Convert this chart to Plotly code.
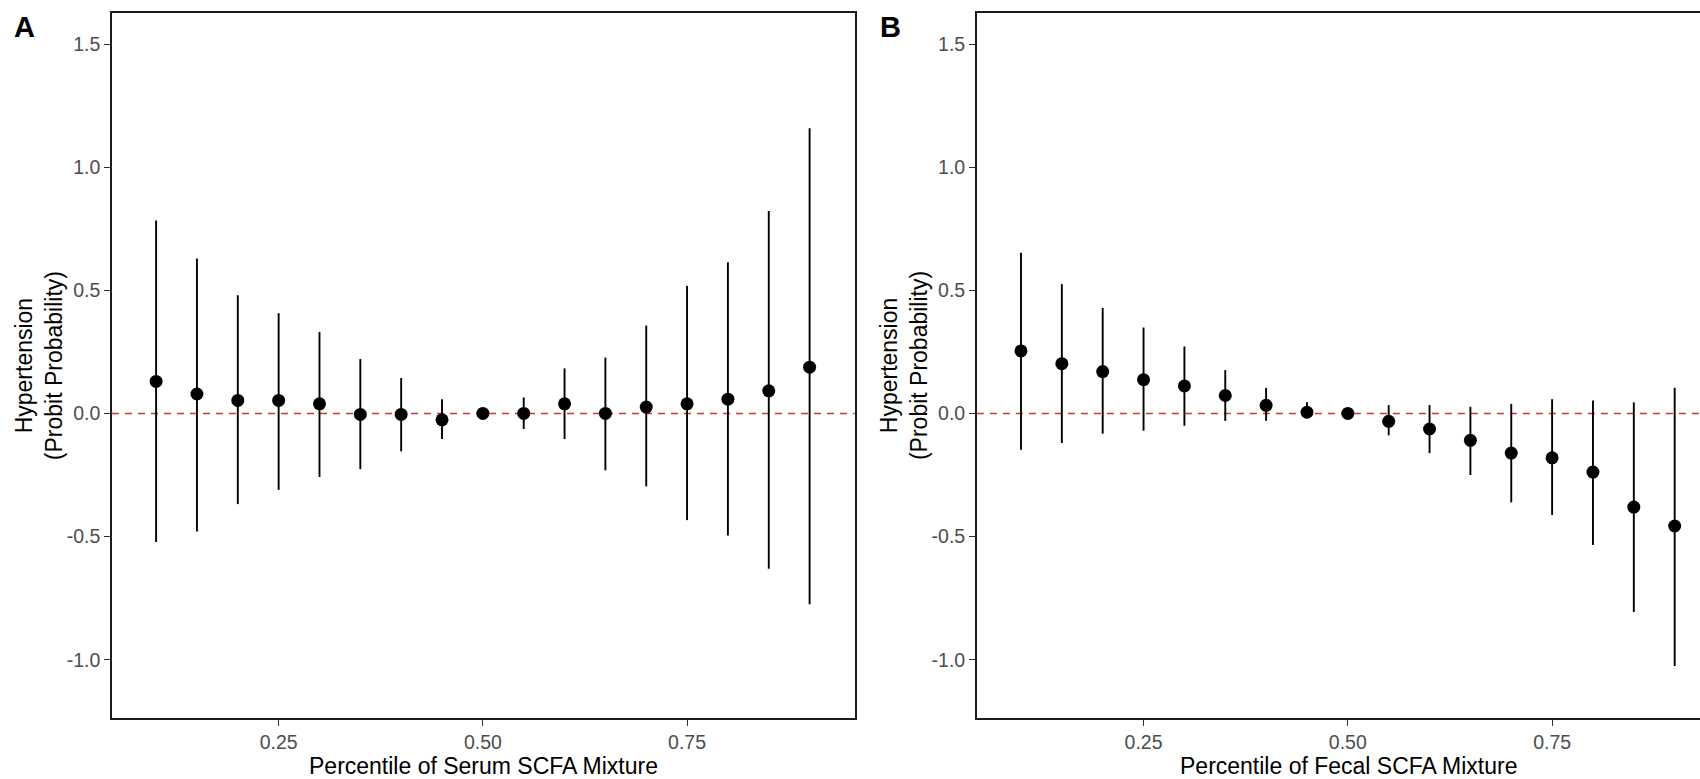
import plotly.graph_objects as go

# ---------------- data ----------------
percentiles = [0.10, 0.15, 0.20, 0.25, 0.30, 0.35, 0.40, 0.45, 0.50,
               0.55, 0.60, 0.65, 0.70, 0.75, 0.80, 0.85, 0.90]

serum_est = [0.130, 0.079, 0.053, 0.053, 0.039, -0.004, -0.004, -0.026, 0.000,
             0.000, 0.039, 0.000, 0.026, 0.039, 0.058, 0.092, 0.188]
serum_upper = [0.783, 0.629, 0.480, 0.407, 0.331, 0.221, 0.144, 0.058, 0.004,
               0.065, 0.183, 0.227, 0.357, 0.518, 0.614, 0.822, 1.158]
serum_lower = [-0.522, -0.479, -0.368, -0.310, -0.258, -0.226, -0.154, -0.104, -0.004,
               -0.063, -0.104, -0.231, -0.296, -0.433, -0.496, -0.631, -0.775]

fecal_est = [0.254, 0.202, 0.170, 0.137, 0.112, 0.073, 0.033, 0.005, 0.000,
             -0.032, -0.063, -0.109, -0.161, -0.180, -0.238, -0.380, -0.457]
fecal_upper = [0.653, 0.525, 0.428, 0.349, 0.272, 0.176, 0.104, 0.046, 0.004,
               0.034, 0.034, 0.027, 0.039, 0.058, 0.053, 0.045, 0.104]
fecal_lower = [-0.147, -0.120, -0.082, -0.070, -0.050, -0.030, -0.030, -0.019, -0.004,
               -0.089, -0.161, -0.250, -0.361, -0.412, -0.534, -0.806, -1.025]

y_ticks = [-1.0, -0.5, 0.0, 0.5, 1.0, 1.5]
y_tick_labels = ["-1.0", "-0.5", "0.0", "0.5", "1.0", "1.5"]
x_ticks = [0.25, 0.50, 0.75]
x_tick_labels = ["0.25", "0.50", "0.75"]

panel_labels = ["A", "B"]
x_titles = ["Percentile of Serum SCFA Mixture", "Percentile of Fecal SCFA Mixture"]
y_title = "Hypertension<br>(Probit Probability)"

# ---------------- layout geometry (pixels) ----------------
W, H = 1700, 779
ML, MR, MT, MB = 112.3, 0, 13, 61
PW = W - ML - MR
PH = H - MT - MB


def px_x(px):
    return (px - ML) / PW


def px_y(py):
    return (H - MB - py) / PH


FONT = "Arial, 'Liberation Sans', sans-serif"

fig = go.Figure()

panels = [
    (serum_est, serum_upper, serum_lower, "x", "y"),
    (fecal_est, fecal_upper, fecal_lower, "x2", "y2"),
]
for est, up, lo, xa, ya in panels:
    fig.add_trace(go.Scatter(
        x=percentiles, y=est, mode="markers",
        marker=dict(color="black", size=13),
        error_y=dict(type="data", symmetric=False,
                     array=[u - e for u, e in zip(up, est)],
                     arrayminus=[e - l for e, l in zip(est, lo)],
                     width=0, thickness=1.9, color="black"),
        xaxis=xa, yaxis=ya, showlegend=False, hoverinfo="skip",
    ))

axis_common = dict(
    showgrid=False, zeroline=False, showline=True, linecolor="#1a1a1a",
    linewidth=1.5, ticks="outside", ticklen=6, tickwidth=1.3, tickcolor="#333333",
    tickfont=dict(family=FONT, size=19.5, color="#4D4D4D"),
)

xr_a = [0.046, 0.955]
xr_b = [0.046, 0.931]
yr = [-1.2365, 1.626]

domA = [0, px_x(854.7)]
domB = [px_x(977.0), 1.0]

fig.update_layout(
    width=W, height=H,
    margin=dict(l=ML, r=MR, t=MT, b=MB, pad=0),
    paper_bgcolor="white", plot_bgcolor="white",
    xaxis=dict(axis_common, domain=domA, range=xr_a, tickvals=x_ticks,
               ticktext=x_tick_labels, mirror=True, anchor="y"),
    yaxis=dict(axis_common, range=yr, tickvals=y_ticks, ticktext=y_tick_labels,
               mirror=True, anchor="x"),
    xaxis2=dict(axis_common, domain=domB, range=xr_b, tickvals=x_ticks,
                ticktext=x_tick_labels, mirror=True, anchor="y2"),
    yaxis2=dict(axis_common, range=yr, tickvals=y_ticks, ticktext=y_tick_labels,
                mirror=False, anchor="x2"),
)

# dashed reference line at 0
for xr_, yr_ in [("x domain", "y"), ("x2 domain", "y2")]:
    fig.add_shape(type="line", xref=xr_, yref=yr_, x0=0, x1=1, y0=0, y1=0,
                  line=dict(color="#D03434", width=1.4, dash="7px,6px"),
                  layer="below")

# annotations: panel letters, axis titles
offsetB = 864.7
for i, lab in enumerate(panel_labels):
    off = offsetB * i
    fig.add_annotation(text="<b>%s</b>" % lab, xref="paper", yref="paper",
                       x=px_x(12 + off + (i * 1.5)), y=px_y(27), xanchor="left",
                       yanchor="middle", showarrow=False,
                       font=dict(family=FONT, size=29, color="black"))
    fig.add_annotation(text=y_title, textangle=-90, xref="paper", yref="paper",
                       x=px_x(39 + off), y=px_y(365.5), xanchor="center",
                       yanchor="middle", showarrow=False,
                       font=dict(family=FONT, size=23, color="black"))
    fig.add_annotation(text=x_titles[i], xref="paper", yref="paper",
                       x=px_x(483.5 + off), y=px_y(766), xanchor="center",
                       yanchor="middle", showarrow=False,
                       font=dict(family=FONT, size=23, color="black"))

fig.write_html("out.html")
